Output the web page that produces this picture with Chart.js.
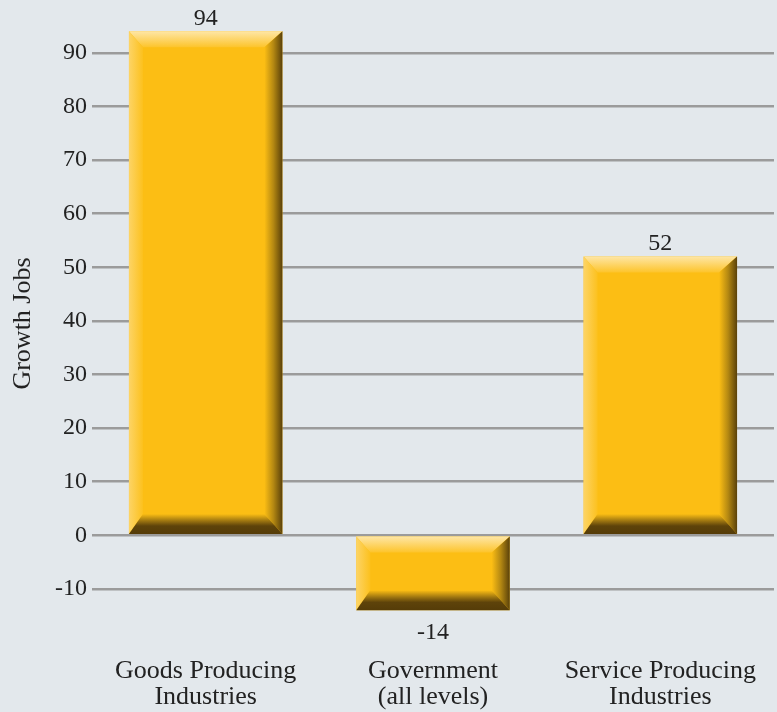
<!DOCTYPE html>
<html>
<head>
<meta charset="utf-8">
<script src="https://cdn.jsdelivr.net/npm/chart.js@4/dist/chart.umd.min.js"></script>
<style>
  html, body { margin: 0; padding: 0; background: #e3e8ec; overflow: hidden; }
  #wrap { width: 777px; height: 712px; }
</style>
</head>
<body>
<div id="wrap"><canvas id="grafico" width="777" height="712"></canvas></div>
<script>
const categorias = [['Goods Producing', 'Industries'], ['Government', '(all levels)'], ['Service Producing', 'Industries']]
const empregos = [94, -14, 52]
const ticksY = [-10, 0, 10, 20, 30, 40, 50, 60, 70, 80, 90]

const serif = "'Liberation Serif', 'DejaVu Serif', serif"

// bars drawn with a bevel on top of the plain fill
const bevelBars = {
    id: 'bevelBars',
    afterDatasetsDraw(chart) {
        const ctx = chart.ctx
        const meta = chart.getDatasetMeta(0)
        meta.data.forEach((bar, i) => {
            const L = bar.x - bar.width / 2, R = bar.x + bar.width / 2
            const T = Math.min(bar.y, bar.base), B = Math.max(bar.y, bar.base)
            const bt = 16, bl = 14, br = 18, bb = 20
            ctx.save()

            let g = ctx.createLinearGradient(0, T, 0, T + bt)
            g.addColorStop(0, '#fee6a6')
            g.addColorStop(1, '#fdc42a')
            ctx.fillStyle = g
            ctx.beginPath()
            ctx.moveTo(L, T); ctx.lineTo(R, T); ctx.lineTo(R - br, T + bt); ctx.lineTo(L + bl, T + bt)
            ctx.closePath(); ctx.fill()

            g = ctx.createLinearGradient(L, 0, L + bl, 0)
            g.addColorStop(0, '#fdd466')
            g.addColorStop(1, '#fcc11e')
            ctx.fillStyle = g
            ctx.beginPath()
            ctx.moveTo(L, T); ctx.lineTo(L + bl, T + bt); ctx.lineTo(L + bl, B - bb); ctx.lineTo(L, B)
            ctx.closePath(); ctx.fill()

            g = ctx.createLinearGradient(R - br, 0, R, 0)
            g.addColorStop(0, '#fcbe14')
            g.addColorStop(0.5, '#b48812')
            g.addColorStop(1, '#5a410a')
            ctx.fillStyle = g
            ctx.beginPath()
            ctx.moveTo(R, T); ctx.lineTo(R - br, T + bt); ctx.lineTo(R - br, B - bb); ctx.lineTo(R, B)
            ctx.closePath(); ctx.fill()

            g = ctx.createLinearGradient(0, B - bb, 0, B)
            g.addColorStop(0, '#fcbe14')
            g.addColorStop(0.35, '#9c7410')
            g.addColorStop(0.6, '#5e430a')
            g.addColorStop(1, '#553c08')
            ctx.fillStyle = g
            ctx.beginPath()
            ctx.moveTo(L, B); ctx.lineTo(L + bl, B - bb); ctx.lineTo(R - br, B - bb); ctx.lineTo(R, B)
            ctx.closePath(); ctx.fill()

            // value labels
            const v = empregos[i]
            ctx.fillStyle = '#222'
            ctx.font = '24px ' + serif
            ctx.textAlign = 'center'
            ctx.textBaseline = 'alphabetic'
            if (v >= 0) {
                ctx.fillText(String(v), bar.x, T - 6)
            } else {
                ctx.fillText(String(v), bar.x, B + 29)
            }
            ctx.restore()
        })
    }
}

new Chart(document.getElementById('grafico'), {
    type: 'bar',
    data: {
        labels: categorias,
        datasets: [{
            label: 'Growth Jobs',
            data: empregos,
            backgroundColor: '#fcbe14',
            borderWidth: 0,
            barPercentage: 0.675,
            categoryPercentage: 1
        }]
    },
    options: {
        responsive: false,
        animation: false,
        layout: { padding: { top: 26, right: 3, left: 0, bottom: 0 } },
        plugins: {
            legend: { display: false },
            tooltip: { enabled: false }
        },
        scales: {
            x: {
                grid: { display: false, drawTicks: false },
                border: { display: false },
                ticks: {
                    color: '#222',
                    padding: 37,
                    font: { family: serif, size: 26, lineHeight: 1.0 }
                },
                afterFit: (s) => { s.height = 91; s.paddingLeft = 0; s.paddingRight = 0 }
            },
            y: {
                min: -16,
                max: 95,
                afterBuildTicks: (scale) => { scale.ticks = ticksY.map(v => ({ value: v })) },
                grid: { color: '#9b9b9b', lineWidth: 2.5, drawTicks: false },
                border: { display: false },
                ticks: {
                    color: '#222',
                    padding: 5,
                    font: { family: serif, size: 24 }
                },
                title: {
                    display: true,
                    text: 'Growth Jobs',
                    color: '#222',
                    font: { family: serif, size: 26 },
                    padding: { top: 8, bottom: 10 }
                },
                afterFit: (s) => { s.width = 92 }
            }
        }
    },
    plugins: [bevelBars]
})
</script>
</body>
</html>
